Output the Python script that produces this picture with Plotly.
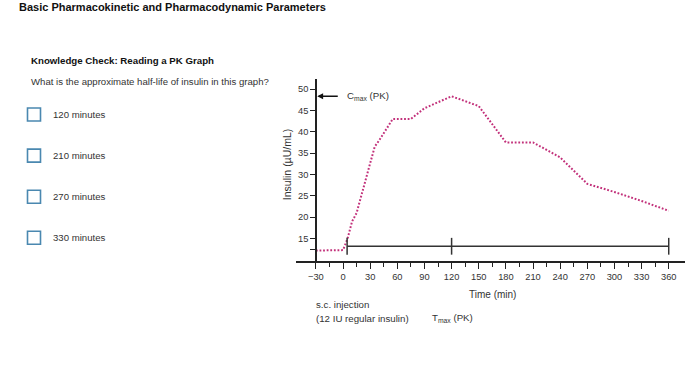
import plotly.graph_objects as go

# ---- data ----
time_min = [-30, 0, 5, 10, 15, 35, 40, 55, 75, 90, 120, 150, 180, 210, 240, 270, 300, 330, 360]
insulin = [12.2, 12.3, 15.0, 19.0, 21.0, 36.5, 38.0, 43.0, 43.0, 45.5, 48.3, 46.0, 37.5, 37.5, 34.0, 27.8, 25.9, 23.8, 21.5]
bar_x = [4.5, 120, 360]
bar_y = 13.2
cmax_val = 48.3
x_ticks = list(range(-30, 361, 30))
y_ticks = [12.5, 15, 20, 25, 30, 35, 40, 45, 50]
y_tick_text = [" ", "15", "20", "25", "30", "35", "40", "45", "50"]
options = ["120 minutes", "210 minutes", "270 minutes", "330 minutes"]

W, H = 700, 375
L, R, T, B = 296, 685, 79, 260.7
PW, PH = R - L, B - T


def xp(px):
    return (px - L) / PW


def yp(py):
    return (B - py) / PH


FONT = "Liberation Sans, Arial, sans-serif"
PINK = "#c2307a"
AX = "#222222"

fig = go.Figure()
fig.add_trace(go.Scatter(x=time_min, y=insulin, mode="lines",
                         line=dict(color=PINK, width=2, dash="1.8px,1.8px"),
                         hoverinfo="skip", showlegend=False))
fig.add_trace(go.Scatter(x=[bar_x[0], bar_x[-1]], y=[bar_y, bar_y], mode="lines",
                         line=dict(color="#333333", width=1.5),
                         hoverinfo="skip", showlegend=False))
fig.add_trace(go.Scatter(x=bar_x, y=[bar_y] * len(bar_x), mode="markers",
                         marker=dict(symbol="line-ns", size=12,
                                     line=dict(color="#333333", width=1.5)),
                         hoverinfo="skip", showlegend=False))

fig.update_layout(
    width=W, height=H,
    margin=dict(l=L, r=W - R, t=T, b=H - B),
    paper_bgcolor="white", plot_bgcolor="white",
    font=dict(family=FONT, size=9, color="#333333"),
    showlegend=False,
    xaxis=dict(range=[-52, 378], tickvals=x_ticks, ticks="outside", ticklen=6,
               tickwidth=1.2, tickcolor=AX, showline=True, linecolor=AX, linewidth=1.5,
               showgrid=False, zeroline=False, tickfont=dict(size=9.3, color="#333333"),
               minor=dict(tickvals=[t + 15 for t in x_ticks[:-1]], ticks="outside",
                          ticklen=4, tickwidth=1.2, tickcolor=AX)),
    yaxis=dict(range=[9.75, 52.34], tickvals=y_ticks, ticktext=y_tick_text,
               ticks="outside", ticklen=5, tickwidth=1.2, tickcolor=AX,
               showline=True, linecolor=AX, linewidth=1.5, showgrid=False,
               zeroline=False, anchor="free", position=xp(316),
               tickfont=dict(size=9.3, color="#333333")),
)

ann = []


def text(px, py, s, size=9, bold=False, color="#333333", xanchor="left", angle=0):
    ann.append(dict(x=xp(px), y=yp(py), xref="paper", yref="paper", text=("<b>%s</b>" % s) if bold else s,
                    showarrow=False, xanchor=xanchor, yanchor="middle", textangle=angle,
                    font=dict(family=FONT, size=size, color=color)))


text(17, 7.5, "Basic Pharmacokinetic and Pharmacodynamic Parameters", size=11, bold=True, color="#111111")
text(29, 61, "Knowledge Check: Reading a PK Graph", size=9.7, bold=True, color="#111111")
text(29, 81.5, "What is the approximate half-life of insulin in this graph?", size=9.6)
shapes = []
for i, o in enumerate(options):
    cy = 114.5 + 41 * i
    text(51, cy, o, size=9.6)
    shapes.append(dict(type="rect", xref="paper", yref="paper",
                       x0=xp(27.5), x1=xp(40.5), y0=yp(cy - 6.5), y1=yp(cy + 6.5),
                       line=dict(color="#4a88b0", width=1.6), fillcolor="white"))

text(492, 294, "Time (min)", size=10, xanchor="center")
text(287, 165, "Insulin (µU/mL)", size=10.5, xanchor="center", angle=-90)
text(314, 304, "s.c. injection", size=9.7)
text(314, 318, "(12 IU regular insulin)", size=9.7)
text(430, 318, "T<sub>max</sub> (PK)", size=9.7)
text(345, 96, "C<sub>max</sub> (PK)", size=9.7)

ann.append(dict(x=-28.5, y=cmax_val, xref="x", yref="y", ax=22, ay=0, axref="pixel", ayref="pixel",
                text="", showarrow=True, arrowhead=2, arrowsize=0.9, arrowwidth=1.3,
                arrowcolor="#111111"))

fig.update_layout(annotations=ann, shapes=shapes)
fig.write_html("out.html", config={"displayModeBar": False},
               post_script="document.body.style.margin='0';")
